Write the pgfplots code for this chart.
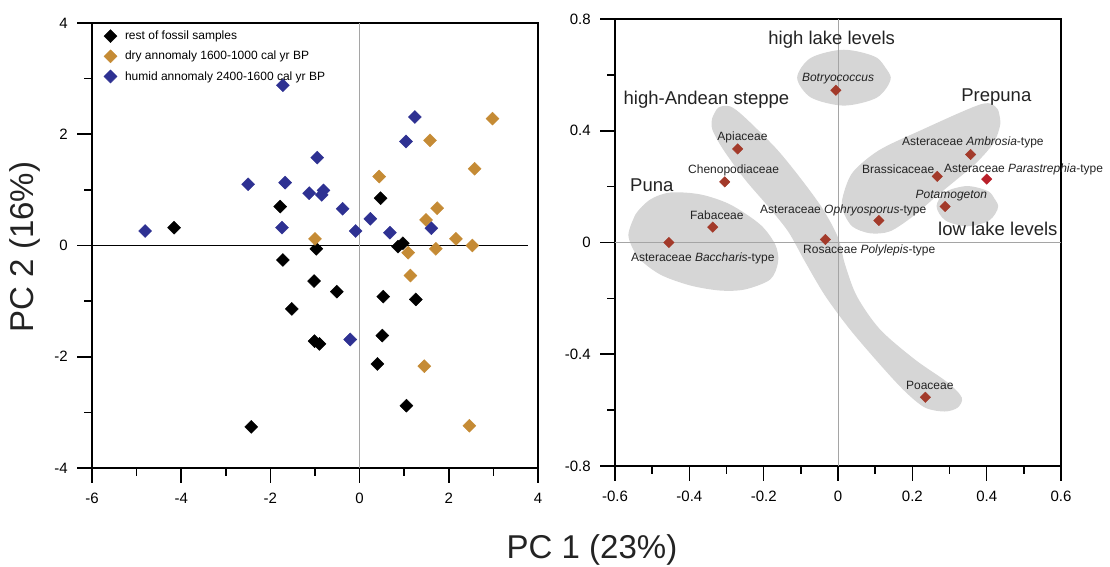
\documentclass[border=0pt]{standalone}
\usepackage{fontspec}
\setmainfont{Liberation Sans}
\usepackage{pgfplots}
\pgfplotsset{compat=1.18}
\definecolor{dryc}{RGB}{197,139,53}
\definecolor{humc}{RGB}{46,49,146}
\definecolor{taxc}{RGB}{163,58,42}
\definecolor{parc}{RGB}{185,32,42}
\definecolor{blob}{RGB}{214,214,214}
\definecolor{zline}{RGB}{165,165,165}
\definecolor{lbl}{RGB}{35,35,35}
\pgfplotsset{
  pcastyle/.style={
    scale only axis,
    line width=2pt,
    every axis plot/.append style={line width=0.9pt},
    major tick length=0pt, minor tick length=0pt,
    tick style={draw=none},
    xtick pos=bottom, ytick pos=left,
    ticklabel style={font=\fontsize{15}{16}\selectfont},
    xticklabel style={yshift=-21pt},
    yticklabel style={xshift=-20pt},
    minor tick num=0,
    clip=false,
    unbounded coords=jump,
  },
  tk/.style={black, line width=1.6pt, forget plot},
}
\begin{document}
\begin{tikzpicture}
\path[use as bounding box] (0,0) rectangle (1110pt,567pt);
% ---------------- left panel ----------------
\begin{axis}[pcastyle, at={(92pt,99pt)}, anchor=south west, width=446pt, height=445pt,
  xmin=-6, xmax=4, ymin=-4, ymax=4,
  xtick={-6,-4,-2,0,2,4}, xticklabels={-6,-4,-2,0,2,4},
  ytick={-4,-2,0,2,4}, yticklabels={-4,-2,0,2,4},
  legend image code/.code={\path[draw=none, fill=none] (0pt,0pt) rectangle (27pt,0pt); \draw[#1] plot coordinates {(14.5pt,0pt)};},
  legend style={draw=none, fill=none, at={(0,1)}, anchor=north west, xshift=0pt, yshift=-3pt,
    font=\fontsize{12}{14}\selectfont, legend cell align=left, row sep=6pt},
]
% ticks
\addplot[tk] coordinates {(-6,-4) (-6,-4.27) (0,nan) (-4,-4) (-4,-4.27) (0,nan) (-2,-4) (-2,-4.27) (0,nan)
 (0,-4) (0,-4.27) (0,nan) (2,-4) (2,-4.27) (0,nan) (4,-4) (4,-4.27)};
\addplot[tk] coordinates {(-5,-4) (-5,-4.144) (0,nan) (-3,-4) (-3,-4.144) (0,nan) (-1,-4) (-1,-4.144) (0,nan)
 (1,-4) (1,-4.144) (0,nan) (3,-4) (3,-4.144)};
\addplot[tk] coordinates {(-6,-4) (-6.336,-4) (0,nan) (-6,-2) (-6.336,-2) (0,nan) (-6,0) (-6.336,0) (0,nan)
 (-6,2) (-6.336,2) (0,nan) (-6,4) (-6.336,4)};
\addplot[tk] coordinates {(-6,-3) (-6.179,-3) (0,nan) (-6,-1) (-6.179,-1) (0,nan) (-6,1) (-6.179,1) (0,nan)
 (-6,3) (-6.179,3)};
% zero lines
\addplot[black, line width=0.7pt, forget plot] coordinates {(-6,0) (3.78,0)};
\addplot[zline, line width=0.9pt, forget plot] coordinates {(0,-4) (0,4)};
\addplot[only marks, mark=square*, mark size=4.6pt, color=black, mark options={rotate=45, line width=0.4pt}] coordinates {
(-4.16,0.32) (-1.78,0.70) (0.47,0.85) (0.97,0.04) (0.86,-0.02) (-0.97,-0.06)
(-1.72,-0.26) (-1.02,-0.64) (-0.51,-0.83) (0.53,-0.92) (1.26,-0.97) (-1.52,-1.14)
(-1.01,-1.72) (-0.90,-1.77) (0.51,-1.62) (0.40,-2.13) (1.05,-2.88) (-2.43,-3.26)
};
\addlegendentry{rest of fossil samples}
\addplot[only marks, mark=square*, mark size=4.6pt, color=dryc, mark options={rotate=45, line width=0.4pt}] coordinates {
(2.98,2.28) (1.58,1.89) (2.58,1.38) (0.44,1.24) (1.74,0.67) (1.49,0.46) (2.16,0.12)
(-1.00,0.12) (2.53,0.00) (1.09,-0.13) (1.71,-0.06) (1.14,-0.54) (1.45,-2.17) (2.46,-3.24)
};
\addlegendentry{dry annomaly 1600-1000 cal yr BP}
\addplot[only marks, mark=square*, mark size=4.6pt, color=humc, mark options={rotate=45, line width=0.4pt}] coordinates {
(-4.81,0.26) (-1.72,2.88) (1.24,2.31) (1.04,1.87) (-0.95,1.58) (-2.50,1.10) (-1.67,1.13)
(-1.13,0.94) (-0.81,0.99) (-0.85,0.91) (-0.38,0.66) (0.24,0.48) (-1.74,0.32) (-0.09,0.26)
(0.68,0.23) (1.61,0.31) (-0.21,-1.69)
};
\addlegendentry{humid annomaly 2400-1600 cal yr BP}
\end{axis}
% ---------------- right panel ----------------
\begin{axis}[pcastyle, at={(615pt,101pt)}, anchor=south west, width=446pt, height=447pt,
  xmin=-0.6, xmax=0.6, ymin=-0.8, ymax=0.8,
  xtick={-0.6,-0.4,-0.2,0,0.2,0.4,0.6}, xticklabels={-0.6,-0.4,-0.2,0,0.2,0.4,0.6},
  ytick={-0.8,-0.4,0,0.4,0.8}, yticklabels={-0.8,-0.4,0,0.4,0.8},
]
% blobs
\addplot[draw=none, fill=blob, smooth, forget plot] coordinates {
(0.142,0.59) (0.105,0.661) (0.016,0.69) (-0.073,0.661) (-0.110,0.59) (-0.073,0.519) (0.016,0.49) (0.105,0.519)
(0.142,0.59) (0.105,0.661)};
\addplot[draw=none, fill=blob, smooth, forget plot] coordinates {
(0.431,0.130) (0.407,0.181) (0.348,0.202) (0.289,0.181) (0.265,0.130) (0.289,0.079) (0.348,0.058) (0.407,0.079)
(0.431,0.130) (0.407,0.181)};
\addplot[draw=none, fill=blob, smooth, forget plot] coordinates {
(0.437,0.428) (0.428,0.480) (0.385,0.495) (0.220,0.400) (0.110,0.330) (0.040,0.252) (0.014,0.170) (0.012,0.118)
(0.038,0.058) (0.086,0.033) (0.140,0.040) (0.202,0.094) (0.265,0.166) (0.319,0.225)
(0.372,0.285) (0.419,0.357) (0.437,0.428) (0.428,0.480)};
\addplot[draw=none, fill=blob, smooth, forget plot] coordinates {
(-0.564,0.025) (-0.545,0.100) (-0.505,0.154) (-0.451,0.179) (-0.370,0.172) (-0.290,0.136)
(-0.209,0.064) (-0.169,-0.007) (-0.161,-0.068) (-0.182,-0.132) (-0.250,-0.168) (-0.317,-0.172)
(-0.397,-0.154) (-0.478,-0.115) (-0.537,-0.054) (-0.564,0.025) (-0.545,0.100)};
\addplot[draw=none, fill=blob, smooth, forget plot] coordinates {
(-0.338,0.447) (-0.322,0.483) (-0.290,0.487) (-0.250,0.447) (-0.164,0.333) (-0.094,0.218)
(-0.040,0.118) (0.000,0.018) (0.019,-0.079) (0.051,-0.193) (0.113,-0.311) (0.207,-0.419)
(0.295,-0.501) (0.333,-0.555) (0.322,-0.591) (0.287,-0.605) (0.234,-0.591) (0.180,-0.533)
(0.113,-0.437) (0.032,-0.311) (-0.035,-0.190) (-0.089,-0.068) (-0.134,0.039) (-0.188,0.129)
(-0.250,0.225) (-0.309,0.333) (-0.338,0.404) (-0.338,0.447) (-0.322,0.483)};
% ticks
\addplot[tk] coordinates {(-0.6,-0.8) (-0.6,-0.8537) (0,nan) (-0.4,-0.8) (-0.4,-0.8537) (0,nan) (-0.2,-0.8) (-0.2,-0.8537) (0,nan)
 (0,-0.8) (0,-0.8537) (0,nan) (0.2,-0.8) (0.2,-0.8537) (0,nan) (0.4,-0.8) (0.4,-0.8537) (0,nan) (0.6,-0.8) (0.6,-0.8537)};
\addplot[tk] coordinates {(-0.5,-0.8) (-0.5,-0.8286) (0,nan) (-0.3,-0.8) (-0.3,-0.8286) (0,nan) (-0.1,-0.8) (-0.1,-0.8286) (0,nan)
 (0.1,-0.8) (0.1,-0.8286) (0,nan) (0.3,-0.8) (0.3,-0.8286) (0,nan) (0.5,-0.8) (0.5,-0.8286)};
\addplot[tk] coordinates {(-0.6,-0.8) (-0.6404,-0.8) (0,nan) (-0.6,-0.4) (-0.6404,-0.4) (0,nan) (-0.6,0) (-0.6404,0) (0,nan)
 (-0.6,0.4) (-0.6404,0.4) (0,nan) (-0.6,0.8) (-0.6404,0.8)};
\addplot[tk] coordinates {(-0.6,-0.6) (-0.6215,-0.6) (0,nan) (-0.6,-0.2) (-0.6215,-0.2) (0,nan) (-0.6,0.2) (-0.6215,0.2) (0,nan)
 (-0.6,0.6) (-0.6215,0.6)};
% zero lines
\addplot[zline, line width=0.9pt, forget plot] coordinates {(-0.6,0) (0.6,0)};
\addplot[zline, line width=0.9pt, forget plot] coordinates {(0,-0.8) (0,0.8)};
% taxa
\addplot[only marks, mark=square*, mark size=3.7pt, color=taxc, mark options={rotate=45, line width=0.4pt}] coordinates {
(-0.006,0.545) (-0.27,0.335) (-0.305,0.217) (-0.337,0.055) (-0.455,0.0) (-0.034,0.011)
(0.11,0.079) (0.357,0.315) (0.267,0.237) (0.288,0.129) (0.235,-0.554)};
\addplot[only marks, mark=square*, mark size=3.7pt, color=parc, mark options={rotate=45, line width=0.4pt}] coordinates {
(0.40,0.227)};
% labels
\begin{scope}[every node/.style={font=\fontsize{18.5}{20}\selectfont, text=lbl}]
\node at (axis cs:-0.017,0.727) {high lake levels};
\node at (axis cs:-0.354,0.512) {high-Andean steppe};
\node at (axis cs:0.426,0.521) {Prepuna};
\node at (axis cs:-0.501,0.204) {Puna};
\node at (axis cs:0.430,0.047) {low lake levels};
\end{scope}
\begin{scope}[every node/.style={font=\fontsize{12}{13}\selectfont, text=lbl, inner sep=0pt}]
\node at (axis cs:0,0.587) {\textit{Botryococcus}};
\node at (axis cs:-0.257,0.377) {Apiaceae};
\node at (axis cs:-0.281,0.259) {Chenopodiaceae};
\node at (axis cs:-0.326,0.098) {Fabaceae};
\node at (axis cs:-0.364,-0.058) {Asteraceae \textit{Baccharis}-type};
\node at (axis cs:0.084,-0.029) {Rosaceae \textit{Polylepis}-type};
\node at (axis cs:0.014,0.115) {Asteraceae \textit{Ophryosporus}-type};
\node at (axis cs:0.363,0.360) {Asteraceae \textit{Ambrosia}-type};
\node at (axis cs:0.162,0.261) {Brassicaceae};
\node[anchor=west] at (axis cs:0.283,0.261) {Asteraceae \textit{Parastrephia}-type};
\node at (axis cs:0.305,0.169) {\textit{Potamogeton}};
\node at (axis cs:0.247,-0.511) {Poaceae};
\end{scope}
\end{axis}
% axis titles
\node[font=\fontsize{33}{36}\selectfont, text=lbl] at (592pt,17pt) {PC 1 (23\%)};
\node[font=\fontsize{33}{36}\selectfont, text=lbl, rotate=90] at (25pt,320pt) {PC 2 (16\%)};
\end{tikzpicture}
\end{document}
